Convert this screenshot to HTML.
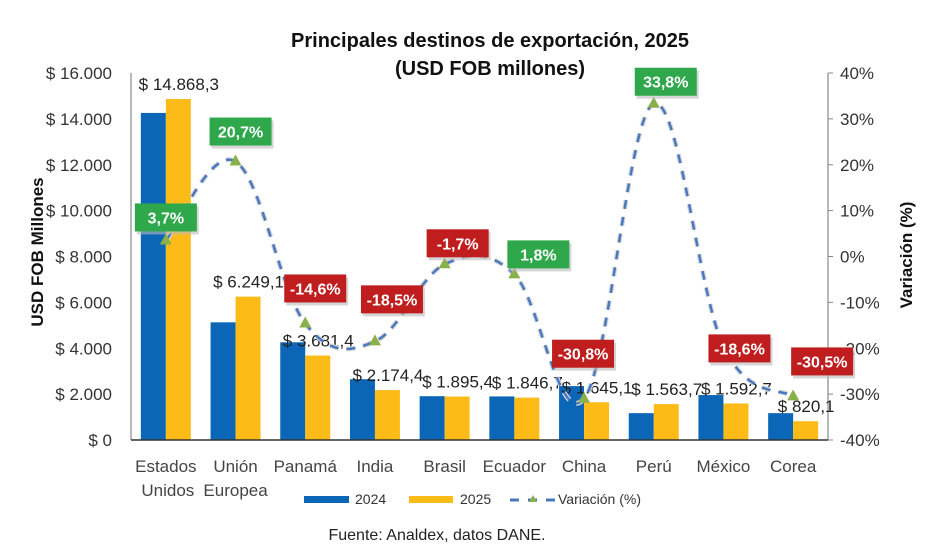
<!DOCTYPE html>
<html><head><meta charset="utf-8"><style>
body{margin:0;background:#fff;}
svg{display:block;font-family:"Liberation Sans",sans-serif;}
</style></head><body>
<svg id="chart" width="945" height="554" viewBox="0 0 945 554">
<text x="490" y="47" text-anchor="middle" font-size="20" font-weight="bold" fill="#111">Principales destinos de exportación, 2025</text>
<text x="490" y="75" text-anchor="middle" font-size="20" font-weight="bold" fill="#111">(USD FOB millones)</text>
<text transform="translate(43,252) rotate(-90)" text-anchor="middle" font-size="17" font-weight="bold" fill="#111">USD FOB Millones</text>
<text transform="translate(912,255) rotate(-90)" text-anchor="middle" font-size="17" font-weight="bold" fill="#111">Variación (%)</text>
<g id="g"></g>
<g>
<rect x="304" y="496" width="45" height="7" fill="#0b66b8"/>
<text x="355" y="504" font-size="14" fill="#333">2024</text>
<rect x="409" y="496" width="44" height="7" fill="#fdbb17"/>
<text x="460" y="504" font-size="14" fill="#333">2025</text>
<line x1="510" y1="500" x2="556" y2="500" stroke="#4a78c0" stroke-width="3" stroke-dasharray="9,9"/>
<polygon points="533,495 537,502 529,502" fill="#8ab04a"/>
<text x="558" y="504" font-size="14" fill="#333">Variación (%)</text>
</g>
<text x="437" y="540" text-anchor="middle" font-size="16" fill="#222">Fuente: Analdex, datos DANE.</text>
</svg>
<script>
const categories=[["Estados","Unidos"],["Unión","Europea"],["Panamá"],["India"],["Brasil"],["Ecuador"],["China"],["Perú"],["México"],["Corea"]];
const values2024=[14260,5130,4260,2650,1910,1900,2350,1170,1960,1170];
const values2025=[14868.3,6249.1,3681.4,2174.4,1895.4,1846.7,1645.1,1563.7,1592.7,820.1];
const valueLabels=["$ 14.868,3","$ 6.249,1","$ 3.681,4","$ 2.174,4","$ 1.895,4","$ 1.846,7","$ 1.645,1","$ 1.563,7","$ 1.592,7","$ 820,1"];
const variation=[3.5,20.7,-14.6,-18.5,-1.7,-3.9,-31.0,33.3,-19.6,-30.5];
const variationLabels=["3,7%","20,7%","-14,6%","-18,5%","-1,7%","1,8%","-30,8%","33,8%","-18,6%","-30,5%"];
const leftTicks=[0,2000,4000,6000,8000,10000,12000,14000,16000];
const leftTickLabels=["$ 0","$ 2.000","$ 4.000","$ 6.000","$ 8.000","$ 10.000","$ 12.000","$ 14.000","$ 16.000"];
const rightTicks=[-40,-30,-20,-10,0,10,20,30,40];
const rightTickLabels=["-40%","-30%","-20%","-10%","0%","10%","20%","30%","40%"];
// label box offsets relative to marker (layout, not data)
const boxDx=[0,5,10,17,13,24,-1,12,16,29];
const boxDy=[-23,-30,-35,-42,-21,-20,-45,-22,2,-35];

const NS="http://www.w3.org/2000/svg";
const g=document.getElementById("g");
const X0=131,X1=828,Y0=440,Y1=73;
const band=(X1-X0)/categories.length;
const xc=i=>X0+band*(i+0.5);
const yL=v=>Y0-(v/16000)*(Y0-Y1);
const yR=v=>Y0-((v+40)/80)*(Y0-Y1);
function el(t,a,txt){const e=document.createElementNS(NS,t);for(const k in a)e.setAttribute(k,a[k]);if(txt!=null)e.textContent=txt;g.appendChild(e);return e;}

let e;
e=el("line",{x1:X0,y1:Y1,x2:X0,y2:Y0,stroke:"#888","stroke-width":1.2});


e=el("line",{x1:X1,y1:Y1,x2:X1,y2:Y0,stroke:"#888","stroke-width":1.2});


leftTicks.forEach((v,i)=>{
  e=el("text",{x:112,y:yL(v)+6,"text-anchor":"end","font-size":17,fill:"#333"},leftTickLabels[i]);
  
  
});
rightTicks.forEach((v,i)=>{
  e=el("line",{x1:X1,y1:yR(v),x2:X1+5,y2:yR(v),stroke:"#888"});
  
  
  e=el("text",{x:840,y:yR(v)+6,"font-size":17,fill:"#333"},rightTickLabels[i]);
  
  
});
const bw=25;
categories.forEach((c,i)=>{
  const cx=xc(i);
  e=el("rect",{x:cx-bw,y:yL(values2024[i]),width:bw,height:Y0-yL(values2024[i]),fill:"#0b66b8"});
  
  
  e=el("rect",{x:cx,y:yL(values2025[i]),width:bw,height:Y0-yL(values2025[i]),fill:"#fdbb17"});
  
  
  c.forEach((ln,j)=>{
    e=el("text",{x:cx+(j==1&&i==0?2:0),y:472+j*24,"text-anchor":"middle","font-size":17,fill:"#444"},ln);
    
    
  });
});
e=el("line",{x1:X0,y1:Y0,x2:X1,y2:Y0,stroke:"#333","stroke-width":1.5});


categories.forEach((c,i)=>{
  e=el("text",{x:xc(i)+13,y:yL(values2025[i])-9,"text-anchor":"middle","font-size":17,fill:"#222"},valueLabels[i]);
  
  
});
const pts=variation.map((v,i)=>[xc(i),yR(v)]);
let d="M"+pts[0][0]+","+pts[0][1];
for(let i=0;i<pts.length-1;i++){
  const p0=pts[Math.max(0,i-1)],p1=pts[i],p2=pts[i+1],p3=pts[Math.min(pts.length-1,i+2)];
  const t=0.18;
  d+=` C${p1[0]+(p2[0]-p0[0])*t},${p1[1]+(p2[1]-p0[1])*t} ${p2[0]-(p3[0]-p1[0])*t},${p2[1]-(p3[1]-p1[1])*t} ${p2[0]},${p2[1]}`;
}
e=el("path",{d:d,fill:"none",stroke:"#d8d8d8","stroke-width":5,"stroke-dasharray":"9,8"});


e=el("path",{d:d,fill:"none",stroke:"#4a78c0","stroke-width":2.5,"stroke-dasharray":"9,8"});


pts.forEach((p,i)=>{
  e=el("polygon",{points:`${p[0]},${p[1]-7} ${p[0]+6},${p[1]+4} ${p[0]-6},${p[1]+4}`,fill:"#8ab04a"});
  
  
});
variation.forEach((v,i)=>{
  const bx=pts[i][0]+boxDx[i],by=pts[i][1]+boxDy[i];
  const col=variationLabels[i].charAt(0)==="-"?"#c01d1f":"#2ea84a";
  e=el("rect",{x:bx-31+2,y:by-14+3,width:62,height:28,fill:"#bbb",opacity:0.6});
  
  
  e=el("rect",{x:bx-31,y:by-14,width:62,height:28,fill:col});
  
  
  e=el("text",{x:bx,y:by+6,"text-anchor":"middle","font-size":16,"font-weight":"bold",fill:"#fff"},variationLabels[i]);
  
  
});
</script>
</body></html>
